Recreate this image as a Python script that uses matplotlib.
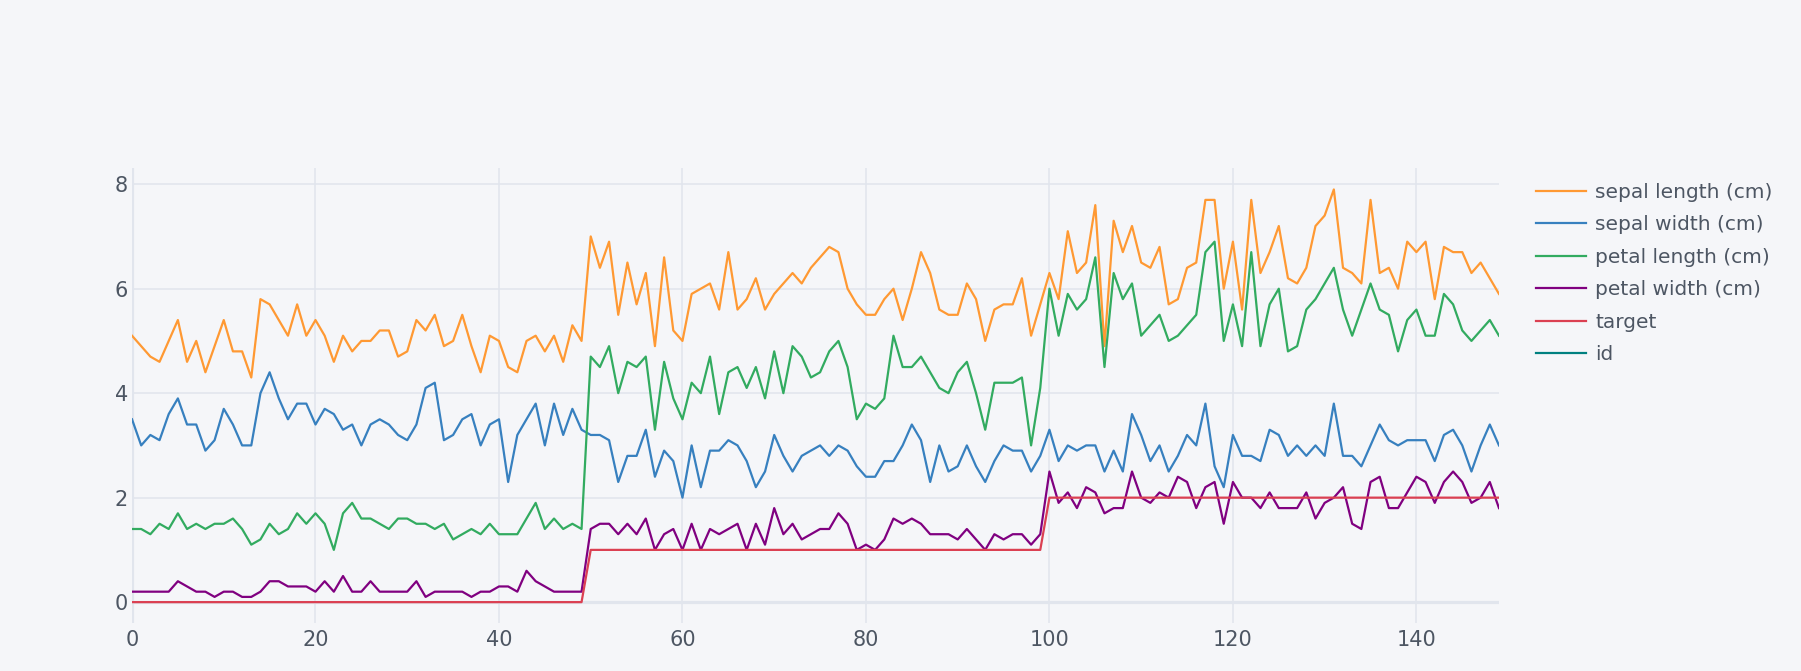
import matplotlib
matplotlib.use("Agg")
import matplotlib.pyplot as plt

# iris columns, row index 0..149
sepal_length = [5.1, 4.9, 4.7, 4.6, 5.0, 5.4, 4.6, 5.0, 4.4, 4.9, 5.4, 4.8, 4.8, 4.3, 5.8, 5.7, 5.4, 5.1, 5.7, 5.1,
                5.4, 5.1, 4.6, 5.1, 4.8, 5.0, 5.0, 5.2, 5.2, 4.7, 4.8, 5.4, 5.2, 5.5, 4.9, 5.0, 5.5, 4.9, 4.4, 5.1,
                5.0, 4.5, 4.4, 5.0, 5.1, 4.8, 5.1, 4.6, 5.3, 5.0, 7.0, 6.4, 6.9, 5.5, 6.5, 5.7, 6.3, 4.9, 6.6, 5.2,
                5.0, 5.9, 6.0, 6.1, 5.6, 6.7, 5.6, 5.8, 6.2, 5.6, 5.9, 6.1, 6.3, 6.1, 6.4, 6.6, 6.8, 6.7, 6.0, 5.7,
                5.5, 5.5, 5.8, 6.0, 5.4, 6.0, 6.7, 6.3, 5.6, 5.5, 5.5, 6.1, 5.8, 5.0, 5.6, 5.7, 5.7, 6.2, 5.1, 5.7,
                6.3, 5.8, 7.1, 6.3, 6.5, 7.6, 4.9, 7.3, 6.7, 7.2, 6.5, 6.4, 6.8, 5.7, 5.8, 6.4, 6.5, 7.7, 7.7, 6.0,
                6.9, 5.6, 7.7, 6.3, 6.7, 7.2, 6.2, 6.1, 6.4, 7.2, 7.4, 7.9, 6.4, 6.3, 6.1, 7.7, 6.3, 6.4, 6.0, 6.9,
                6.7, 6.9, 5.8, 6.8, 6.7, 6.7, 6.3, 6.5, 6.2, 5.9]
sepal_width = [3.5, 3.0, 3.2, 3.1, 3.6, 3.9, 3.4, 3.4, 2.9, 3.1, 3.7, 3.4, 3.0, 3.0, 4.0, 4.4, 3.9, 3.5, 3.8, 3.8,
               3.4, 3.7, 3.6, 3.3, 3.4, 3.0, 3.4, 3.5, 3.4, 3.2, 3.1, 3.4, 4.1, 4.2, 3.1, 3.2, 3.5, 3.6, 3.0, 3.4,
               3.5, 2.3, 3.2, 3.5, 3.8, 3.0, 3.8, 3.2, 3.7, 3.3, 3.2, 3.2, 3.1, 2.3, 2.8, 2.8, 3.3, 2.4, 2.9, 2.7,
               2.0, 3.0, 2.2, 2.9, 2.9, 3.1, 3.0, 2.7, 2.2, 2.5, 3.2, 2.8, 2.5, 2.8, 2.9, 3.0, 2.8, 3.0, 2.9, 2.6,
               2.4, 2.4, 2.7, 2.7, 3.0, 3.4, 3.1, 2.3, 3.0, 2.5, 2.6, 3.0, 2.6, 2.3, 2.7, 3.0, 2.9, 2.9, 2.5, 2.8,
               3.3, 2.7, 3.0, 2.9, 3.0, 3.0, 2.5, 2.9, 2.5, 3.6, 3.2, 2.7, 3.0, 2.5, 2.8, 3.2, 3.0, 3.8, 2.6, 2.2,
               3.2, 2.8, 2.8, 2.7, 3.3, 3.2, 2.8, 3.0, 2.8, 3.0, 2.8, 3.8, 2.8, 2.8, 2.6, 3.0, 3.4, 3.1, 3.0, 3.1,
               3.1, 3.1, 2.7, 3.2, 3.3, 3.0, 2.5, 3.0, 3.4, 3.0]
petal_length = [1.4, 1.4, 1.3, 1.5, 1.4, 1.7, 1.4, 1.5, 1.4, 1.5, 1.5, 1.6, 1.4, 1.1, 1.2, 1.5, 1.3, 1.4, 1.7, 1.5,
                1.7, 1.5, 1.0, 1.7, 1.9, 1.6, 1.6, 1.5, 1.4, 1.6, 1.6, 1.5, 1.5, 1.4, 1.5, 1.2, 1.3, 1.4, 1.3, 1.5,
                1.3, 1.3, 1.3, 1.6, 1.9, 1.4, 1.6, 1.4, 1.5, 1.4, 4.7, 4.5, 4.9, 4.0, 4.6, 4.5, 4.7, 3.3, 4.6, 3.9,
                3.5, 4.2, 4.0, 4.7, 3.6, 4.4, 4.5, 4.1, 4.5, 3.9, 4.8, 4.0, 4.9, 4.7, 4.3, 4.4, 4.8, 5.0, 4.5, 3.5,
                3.8, 3.7, 3.9, 5.1, 4.5, 4.5, 4.7, 4.4, 4.1, 4.0, 4.4, 4.6, 4.0, 3.3, 4.2, 4.2, 4.2, 4.3, 3.0, 4.1,
                6.0, 5.1, 5.9, 5.6, 5.8, 6.6, 4.5, 6.3, 5.8, 6.1, 5.1, 5.3, 5.5, 5.0, 5.1, 5.3, 5.5, 6.7, 6.9, 5.0,
                5.7, 4.9, 6.7, 4.9, 5.7, 6.0, 4.8, 4.9, 5.6, 5.8, 6.1, 6.4, 5.6, 5.1, 5.6, 6.1, 5.6, 5.5, 4.8, 5.4,
                5.6, 5.1, 5.1, 5.9, 5.7, 5.2, 5.0, 5.2, 5.4, 5.1]
petal_width = [0.2, 0.2, 0.2, 0.2, 0.2, 0.4, 0.3, 0.2, 0.2, 0.1, 0.2, 0.2, 0.1, 0.1, 0.2, 0.4, 0.4, 0.3, 0.3, 0.3,
               0.2, 0.4, 0.2, 0.5, 0.2, 0.2, 0.4, 0.2, 0.2, 0.2, 0.2, 0.4, 0.1, 0.2, 0.2, 0.2, 0.2, 0.1, 0.2, 0.2,
               0.3, 0.3, 0.2, 0.6, 0.4, 0.3, 0.2, 0.2, 0.2, 0.2, 1.4, 1.5, 1.5, 1.3, 1.5, 1.3, 1.6, 1.0, 1.3, 1.4,
               1.0, 1.5, 1.0, 1.4, 1.3, 1.4, 1.5, 1.0, 1.5, 1.1, 1.8, 1.3, 1.5, 1.2, 1.3, 1.4, 1.4, 1.7, 1.5, 1.0,
               1.1, 1.0, 1.2, 1.6, 1.5, 1.6, 1.5, 1.3, 1.3, 1.3, 1.2, 1.4, 1.2, 1.0, 1.3, 1.2, 1.3, 1.3, 1.1, 1.3,
               2.5, 1.9, 2.1, 1.8, 2.2, 2.1, 1.7, 1.8, 1.8, 2.5, 2.0, 1.9, 2.1, 2.0, 2.4, 2.3, 1.8, 2.2, 2.3, 1.5,
               2.3, 2.0, 2.0, 1.8, 2.1, 1.8, 1.8, 1.8, 2.1, 1.6, 1.9, 2.0, 2.2, 1.5, 1.4, 2.3, 2.4, 1.8, 1.8, 2.1,
               2.4, 2.3, 1.9, 2.3, 2.5, 2.3, 1.9, 2.0, 2.3, 1.8]
target = [0, 0, 0, 0, 0, 0, 0, 0, 0, 0, 0, 0, 0, 0, 0, 0, 0, 0, 0, 0, 0, 0, 0, 0, 0,
          0, 0, 0, 0, 0, 0, 0, 0, 0, 0, 0, 0, 0, 0, 0, 0, 0, 0, 0, 0, 0, 0, 0, 0, 0,
          1, 1, 1, 1, 1, 1, 1, 1, 1, 1, 1, 1, 1, 1, 1, 1, 1, 1, 1, 1, 1, 1, 1, 1, 1,
          1, 1, 1, 1, 1, 1, 1, 1, 1, 1, 1, 1, 1, 1, 1, 1, 1, 1, 1, 1, 1, 1, 1, 1, 1,
          2, 2, 2, 2, 2, 2, 2, 2, 2, 2, 2, 2, 2, 2, 2, 2, 2, 2, 2, 2, 2, 2, 2, 2, 2,
          2, 2, 2, 2, 2, 2, 2, 2, 2, 2, 2, 2, 2, 2, 2, 2, 2, 2, 2, 2, 2, 2, 2, 2, 2]
id_vals = []  # id column has no visible points in the chart

series = [("sepal length (cm)", sepal_length, "#ff9933"),
          ("sepal width (cm)", sepal_width, "#3780bf"),
          ("petal length (cm)", petal_length, "#32ab60"),
          ("petal width (cm)", petal_width, "#800080"),
          ("target", target, "#db4052"),
          ("id", id_vals, "#008080")]

bg = "#F5F6F9"
grid = "#E1E5ED"
txt = "#4D5663"

fig = plt.figure(figsize=(18.01, 6.71), dpi=100, facecolor=bg)
ax = fig.add_axes([0.0733, 0.0715, 0.759, 0.6781], facecolor=bg)

ax.axhline(0, color=grid, lw=2.3, zorder=1)
ax.axvline(0, color=grid, lw=2.3, zorder=1)
for name, vals, col in series:
    ax.plot(range(len(vals)), vals, color=col, lw=1.6, label=name, zorder=3)

ax.set_xlim(0, 149)
ax.set_ylim(-0.4, 8.31)
ax.set_xticks([0, 20, 40, 60, 80, 100, 120, 140])
ax.set_yticks([0, 2, 4, 6, 8])
ax.grid(True, color=grid, lw=1.1, zorder=0)
ax.set_axisbelow(True)
for s in ax.spines.values():
    s.set_visible(False)
ax.tick_params(length=0, labelsize=15, labelcolor=txt)
ax.tick_params(axis="x", pad=5)
ax.tick_params(axis="y", pad=3)

leg = ax.legend(loc="upper left", frameon=False,
                fontsize=14.5, labelcolor=txt, handlelength=2.49, handletextpad=0.45,
                labelspacing=0.67, borderaxespad=0.0, borderpad=0.0)
leg.set_bbox_to_anchor((1536 / 1801, 1 - 183 / 671), transform=fig.transFigure)

fig.savefig("out.png", dpi=100, facecolor=bg)
